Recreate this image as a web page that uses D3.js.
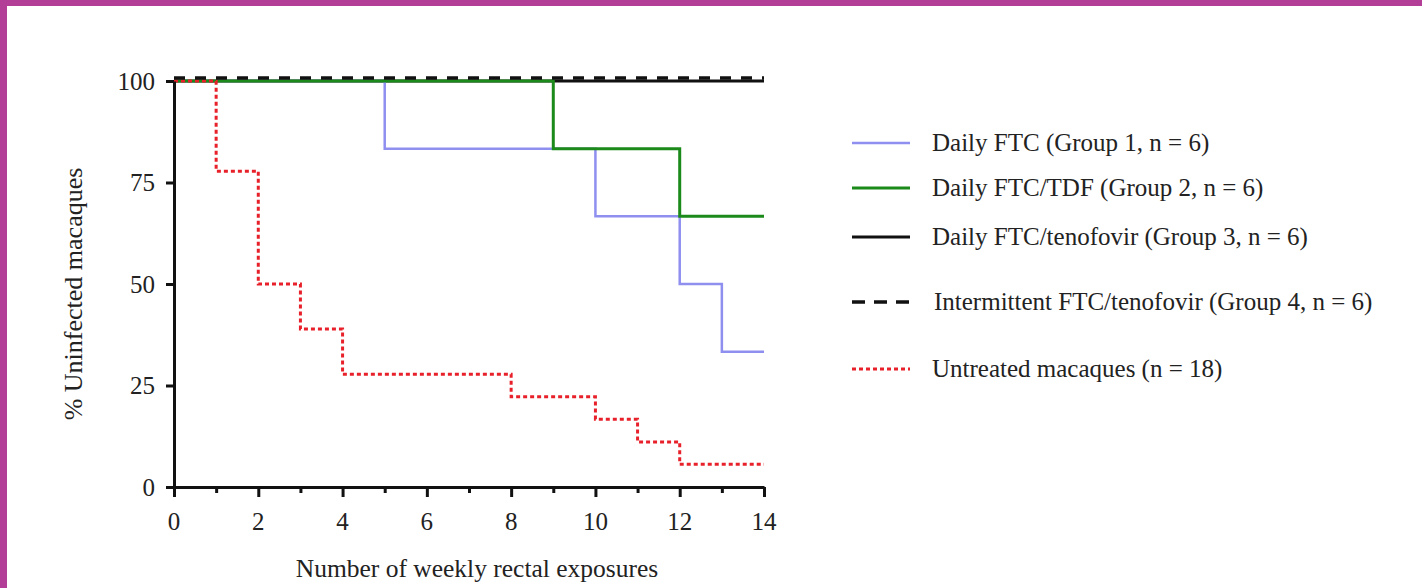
<!DOCTYPE html>
<html>
<head>
<meta charset="utf-8">
<script src="https://cdn.jsdelivr.net/npm/d3@7"></script>
<style>
  html, body { margin: 0; padding: 0; background: #fff; }
  svg { display: block; }
  text { font-family: "Liberation Serif", "Times New Roman", serif; fill: #222; }
</style>
</head>
<body>
<script>
// survival steps: [week, % uninfected]
const group1 = [[0, 100], [5, 83.3], [10, 66.7], [12, 50], [13, 33.3], [14, 33.3]];
const group2 = [[0, 100], [9, 83.3], [12, 66.7], [14, 66.7]];
const group3 = [[0, 100], [14, 100]];
const group4 = [[0, 100], [14, 100]];
const untreated = [[0, 100], [1, 77.8], [2, 50], [3, 38.9], [4, 27.8], [8, 22.2], [10, 16.7], [11, 11.1], [12, 5.6], [14, 5.6]];

const xTicks = [0, 2, 4, 6, 8, 10, 12, 14];
const yTicks = [0, 25, 50, 75, 100];
const legendLabels = [
  'Daily FTC (Group 1, n = 6)',
  'Daily FTC/TDF (Group 2, n = 6)',
  'Daily FTC/tenofovir (Group 3, n = 6)',
  'Intermittent FTC/tenofovir (Group 4, n = 6)',
  'Untreated macaques (n = 18)'
];

const W = 1422, H = 588;
const svg = d3.select('body').append('svg').attr('width', W).attr('height', H);

// purple frame
svg.append('rect').attr('x', 0).attr('y', 0).attr('width', W).attr('height', 6).attr('fill', '#b23e97');
svg.append('rect').attr('x', 0).attr('y', 0).attr('width', 7).attr('height', H).attr('fill', '#b23e97');

const x = d3.scaleLinear().domain([0, 14]).range([174, 764]);
const y = d3.scaleLinear().domain([0, 100]).range([487, 81]);

const line = d3.line().x(d => x(d[0])).y(d => y(d[1])).curve(d3.curveStepAfter);

const series = [
  { data: group3, color: '#111', width: 3, dash: null, dy: 0 },
  { data: group1, color: '#8f8ff0', width: 2.5, dash: null, dy: 0 },
  { data: group2, color: '#1b8a1b', width: 3, dash: null, dy: 0 },
  { data: untreated, color: '#e8202a', width: 3, dash: '4,3', dy: 0 },
  { data: group4, color: '#111', width: 3.5, dash: '11,10', dy: -3 }
];

series.forEach(s => {
  svg.append('path')
    .attr('d', line(s.data))
    .attr('transform', `translate(0,${s.dy})`)
    .attr('fill', 'none')
    .attr('stroke', s.color)
    .attr('stroke-width', s.width)
    .attr('stroke-dasharray', s.dash);
});

// axes
const xAxis = svg.append('g').attr('transform', `translate(0,${y(0)})`)
  .call(d3.axisBottom(x).tickValues(d3.range(0, 15)).tickSize(0).tickFormat(''));
xAxis.select('.domain').attr('stroke', '#111').attr('stroke-width', 3);
xAxis.selectAll('.tick line')
  .attr('y2', d => d % 2 === 0 ? 10 : 6)
  .attr('stroke', '#111').attr('stroke-width', 3);
svg.append('g').selectAll('text').data(xTicks).join('text')
  .attr('x', d => x(d)).attr('y', 530)
  .attr('text-anchor', 'middle').attr('font-size', 25)
  .text(d => d);

const yAxis = svg.append('g').attr('transform', `translate(${x(0)},0)`)
  .call(d3.axisLeft(y).tickValues(yTicks).tickSize(8).tickPadding(11).tickSizeOuter(0));
yAxis.select('.domain').attr('stroke', '#111').attr('stroke-width', 3);
yAxis.selectAll('.tick line').attr('stroke', '#111').attr('stroke-width', 3);
yAxis.selectAll('.tick text')
  .style('font-family', '"Liberation Serif", "Times New Roman", serif')
  .attr('font-size', 25).attr('fill', '#222');

svg.append('text')
  .attr('x', 477).attr('y', 577)
  .attr('text-anchor', 'middle').attr('font-size', 25.5)
  .text('Number of weekly rectal exposures');

svg.append('text')
  .attr('transform', 'translate(82,294) rotate(-90)')
  .attr('text-anchor', 'middle').attr('font-size', 26)
  .text('% Uninfected macaques');

// legend
const legendY = [143, 188, 237, 302, 369];
const legendSeries = [series[1], series[2], series[0], series[4], series[3]];
const lg = svg.append('g');
legendLabels.forEach((lab, i) => {
  const s = legendSeries[i];
  lg.append('line')
    .attr('x1', 852).attr('x2', 910)
    .attr('y1', legendY[i]).attr('y2', legendY[i])
    .attr('stroke', s.color).attr('stroke-width', s.width)
    .attr('stroke-dasharray', i === 3 ? '13,9' : s.dash);
  lg.append('text')
    .attr('x', i === 3 ? 934 : 932).attr('y', legendY[i] + 8)
    .attr('font-size', 25)
    .text(lab);
});
</script>
</body>
</html>
